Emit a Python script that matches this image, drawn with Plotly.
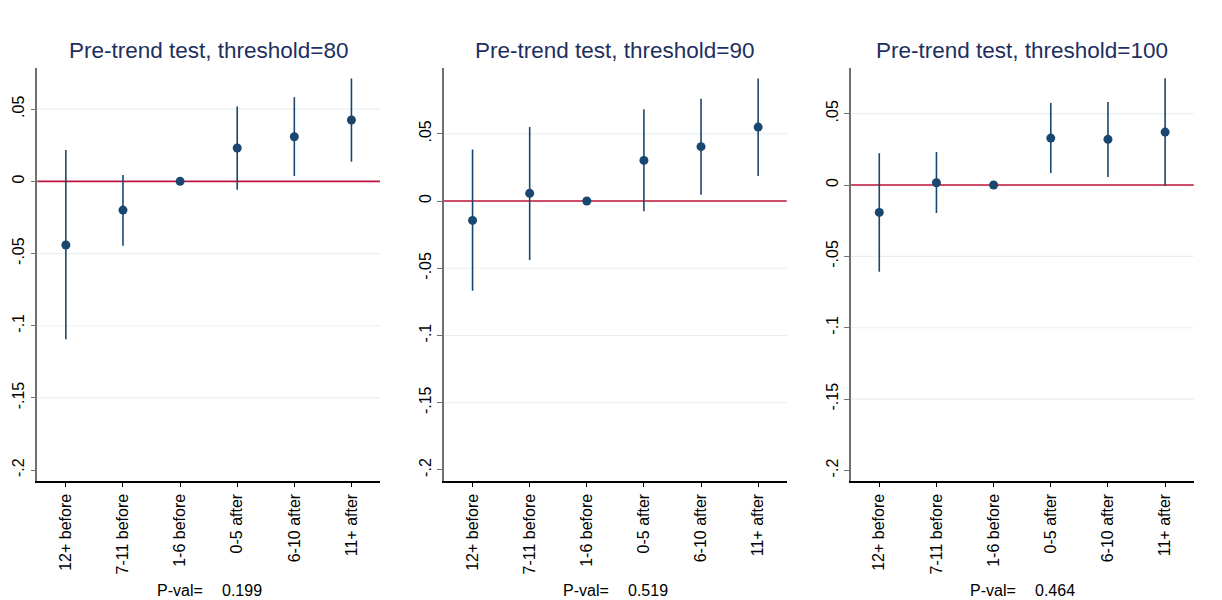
import plotly.graph_objects as go

# Event-time bins and estimated coefficients with 95% confidence bounds
categories = ["12+ before", "7-11 before", "1-6 before", "0-5 after", "6-10 after", "11+ after"]
thresholds = [80, 90, 100]
pvals = ["0.199", "0.519", "0.464"]

est_80 = [-0.0441, -0.0199, 0.0, 0.0231, 0.0309, 0.0425]
lo_80 = [-0.1094, -0.0446, 0.0, -0.0058, 0.0037, 0.0136]
hi_80 = [0.0217, 0.0044, 0.0, 0.0519, 0.0582, 0.0713]

est_90 = [-0.0144, 0.0057, 0.0, 0.0302, 0.0404, 0.0550]
lo_90 = [-0.0667, -0.0439, 0.0, -0.0077, 0.0047, 0.0186]
hi_90 = [0.0384, 0.0550, 0.0, 0.0682, 0.0761, 0.0912]

est_100 = [-0.0192, 0.0016, 0.0, 0.0329, 0.0320, 0.0371]
lo_100 = [-0.0607, -0.0196, 0.0, 0.0084, 0.0056, -0.0007]
hi_100 = [0.0222, 0.0231, 0.0, 0.0575, 0.0582, 0.0748]

ytick_vals = [-0.2, -0.15, -0.1, -0.05, 0.0, 0.05]
ytick_text = ["-.2", "-.15", "-.1", "-.05", "0", ".05"]
y_ranges = [[-0.2073, 0.0783], [-0.208, 0.0987], [-0.2072, 0.0818]]

W, H = 1222, 600
x_domains_px = [(37.3, 380.0), (444.0, 786.7), (850.7, 1193.7)]
y_top_px, y_bot_px = 68.3, 480.7

NAVY = "#1a476f"
RED = "#c0143c"
TITLE = "#1e2f5f"
GRID = "#e8f0f1"
FONT = "Liberation Sans, Arial, sans-serif"

panels = [(est_80, lo_80, hi_80), (est_90, lo_90, hi_90), (est_100, lo_100, hi_100)]
xs = list(range(1, len(categories) + 1))

fig = go.Figure()
layout = dict(
    width=W, height=H,
    margin=dict(l=0, r=0, t=0, b=0),
    paper_bgcolor="white", plot_bgcolor="white",
    showlegend=False,
    font=dict(family=FONT, color="black", size=16),
)
shapes = []
annotations = []

for i, ((est, lo, hi), thr, pv, yr, (x0, x1)) in enumerate(
        zip(panels, thresholds, pvals, y_ranges, x_domains_px)):
    n = "" if i == 0 else str(i + 1)
    xa, ya = "x" + n, "y" + n

    fig.add_trace(go.Scatter(
        x=xs, y=est, mode="markers", xaxis=xa, yaxis=ya,
        marker=dict(color=NAVY, size=9),
        error_y=dict(type="data", symmetric=False,
                     array=[h - e for h, e in zip(hi, est)],
                     arrayminus=[e - l for e, l in zip(est, lo)],
                     color=NAVY, thickness=1.6, width=0),
        hoverinfo="skip",
    ))

    layout["xaxis" + n] = dict(
        domain=[x0 / W, x1 / W], anchor=ya, range=[0.5, len(categories) + 0.5],
        tickvals=xs, ticktext=categories, tickangle=-90,
        ticks="outside", ticklen=5, tickwidth=1.2, tickcolor="black",
        showline=True, linecolor="black", linewidth=1.5,
        showgrid=False, zeroline=False, fixedrange=True,
        tickfont=dict(family=FONT, size=16, color="black"),
    )
    layout["yaxis" + n] = dict(
        domain=[1 - y_bot_px / H, 1 - y_top_px / H], anchor=xa, range=yr,
        tickvals=ytick_vals, ticktext=ytick_text, tickangle=-90,
        ticks="outside", ticklen=5, tickwidth=1.2, tickcolor="#707070",
        showline=True, linecolor="#707070", linewidth=1.5,
        showgrid=False, zeroline=False, fixedrange=True,
        tickfont=dict(family=FONT, size=16, color="black"),
    )

    # horizontal grid at the interior ticks
    for v in ytick_vals[1:]:
        shapes.append(dict(type="line", xref=xa + " domain", yref=ya,
                           x0=0, x1=1, y0=v, y1=v, layer="below",
                           line=dict(color=GRID, width=1.2)))
    # reference line at zero
    shapes.append(dict(type="line", xref=xa + " domain", yref=ya,
                       x0=0, x1=1, y0=0, y1=0, layer="below",
                       line=dict(color=RED, width=1.6)))

    cx = (x0 + x1) / 2
    annotations.append(dict(
        text=f"Pre-trend test, threshold={thr}", xref="paper", yref="paper",
        x=cx / W, y=1 - 50 / H, xanchor="center", yanchor="middle",
        showarrow=False, font=dict(family=FONT, size=22.5, color=TITLE)))
    annotations.append(dict(
        text="P-val=", xref="paper", yref="paper",
        x=(cx - 4) / W, y=1 - 590 / H, xanchor="right", yanchor="middle",
        showarrow=False, font=dict(family=FONT, size=16, color="black")))
    annotations.append(dict(
        text=pv, xref="paper", yref="paper",
        x=(cx + 11) / W, y=1 - 590 / H, xanchor="left", yanchor="middle",
        showarrow=False, font=dict(family=FONT, size=16, color="black")))

layout["shapes"] = shapes
layout["annotations"] = annotations
fig.update_layout(**layout)

fig.write_html("out.html")
